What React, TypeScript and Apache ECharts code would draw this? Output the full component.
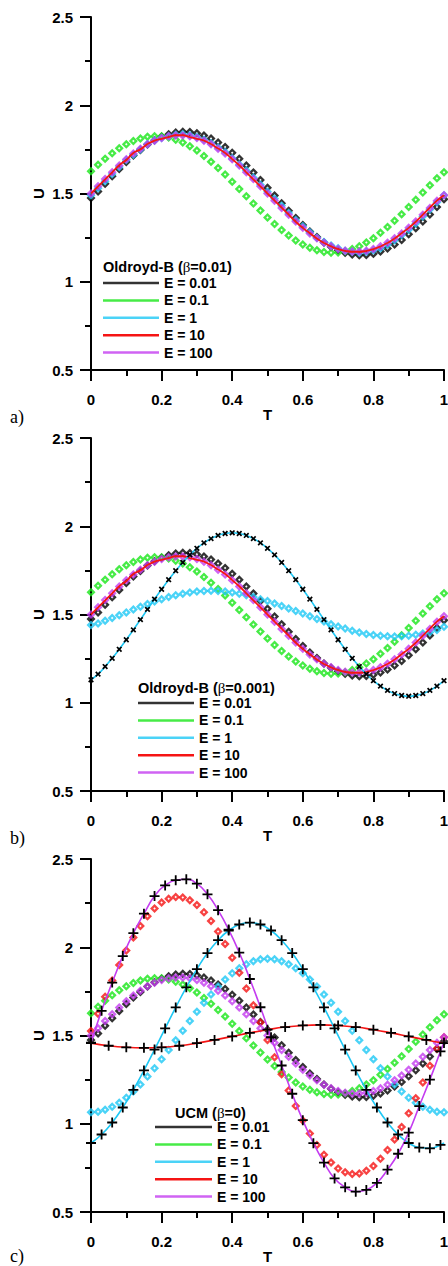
import React, { useEffect, useRef } from "react";
import * as echarts from "echarts";

// ---------- x grids ----------
const T_FINE = [0, 0.02, 0.04, 0.06, 0.08, 0.1, 0.12, 0.14, 0.16, 0.18, 0.2, 0.22, 0.24, 0.26, 0.28, 0.3, 0.32, 0.34, 0.36, 0.38, 0.4, 0.42, 0.44, 0.46, 0.48, 0.5, 0.52, 0.54, 0.56, 0.58, 0.6, 0.62, 0.64, 0.66, 0.68, 0.7, 0.72, 0.74, 0.76, 0.78, 0.8, 0.82, 0.84, 0.86, 0.88, 0.9, 0.92, 0.94, 0.96, 0.98, 1];
const T_03 = [0, 0.03, 0.06, 0.09, 0.12, 0.15, 0.18, 0.21, 0.24, 0.27, 0.3, 0.33, 0.36, 0.39, 0.42, 0.45, 0.48, 0.51, 0.54, 0.57, 0.6, 0.63, 0.66, 0.69, 0.72, 0.75, 0.78, 0.81, 0.84, 0.87, 0.9, 0.93, 0.96, 0.99, 1];
const T_05 = [0, 0.05, 0.1, 0.15, 0.2, 0.25, 0.3, 0.35, 0.4, 0.45, 0.5, 0.55, 0.6, 0.65, 0.7, 0.75, 0.8, 0.85, 0.9, 0.95, 1];

// ---------- tick labels ----------
const X_TICKS = [0, 0.2, 0.4, 0.6, 0.8, 1];
const Y_TICKS = [0.5, 1, 1.5, 2, 2.5];

// ---------- legend ----------
const LEGEND_NAMES = ["E = 0.01", "E = 0.1", "E = 1", "E = 10", "E = 100"];
const PANEL_TITLES = [
  ["Oldroyd-B (", "β", "=0.01)"],
  ["Oldroyd-B (", "β", "=0.001)"],
  ["UCM (", "β", "=0)"],
];
const PANEL_LABELS = ["a)", "b)", "c)"];

// ---------- series values (U) ----------
// shared curves (same in all panels)
const U_E001 = [1.475, 1.511, 1.555, 1.598, 1.639, 1.678, 1.715, 1.747, 1.777, 1.801, 1.821, 1.836, 1.846, 1.85, 1.848, 1.842, 1.829, 1.812, 1.789, 1.763, 1.731, 1.697, 1.659, 1.619, 1.576, 1.533, 1.489, 1.445, 1.402, 1.361, 1.322, 1.285, 1.253, 1.223, 1.199, 1.179, 1.164, 1.154, 1.15, 1.152, 1.158, 1.171, 1.188, 1.211, 1.237, 1.269, 1.303, 1.341, 1.381, 1.424, 1.467];
const U_E01 = [1.626, 1.663, 1.697, 1.728, 1.756, 1.779, 1.798, 1.812, 1.821, 1.825, 1.824, 1.817, 1.805, 1.789, 1.768, 1.743, 1.713, 1.68, 1.645, 1.607, 1.567, 1.526, 1.485, 1.443, 1.403, 1.364, 1.327, 1.293, 1.262, 1.234, 1.211, 1.192, 1.178, 1.169, 1.165, 1.166, 1.173, 1.185, 1.201, 1.222, 1.247, 1.277, 1.31, 1.345, 1.383, 1.423, 1.464, 1.505, 1.547, 1.587, 1.62];
const U_E100 = [1.5, 1.541, 1.582, 1.621, 1.659, 1.694, 1.726, 1.754, 1.779, 1.799, 1.814, 1.824, 1.829, 1.829, 1.824, 1.814, 1.799, 1.779, 1.754, 1.726, 1.694, 1.659, 1.621, 1.582, 1.541, 1.5, 1.459, 1.418, 1.379, 1.341, 1.306, 1.274, 1.246, 1.221, 1.201, 1.186, 1.176, 1.171, 1.171, 1.176, 1.186, 1.201, 1.221, 1.246, 1.274, 1.306, 1.341, 1.379, 1.418, 1.459, 1.49];
const U_E10_AB = [1.5, 1.54, 1.58, 1.62, 1.66, 1.69, 1.73, 1.75, 1.78, 1.8, 1.81, 1.82, 1.83, 1.83, 1.82, 1.81, 1.8, 1.78, 1.755, 1.73, 1.695, 1.66, 1.62, 1.58, 1.54, 1.5, 1.46, 1.42, 1.38, 1.34, 1.305, 1.275, 1.245, 1.22, 1.2, 1.185, 1.175, 1.17, 1.17, 1.175, 1.185, 1.2, 1.22, 1.245, 1.275, 1.305, 1.34, 1.38, 1.42, 1.46, 1.49];
// panel a
const A_E1 = [1.49, 1.53, 1.57, 1.61, 1.65, 1.69, 1.72, 1.75, 1.78, 1.8, 1.815, 1.825, 1.833, 1.835, 1.83, 1.82, 1.805, 1.785, 1.76, 1.735, 1.7, 1.665, 1.63, 1.59, 1.55, 1.51, 1.47, 1.43, 1.39, 1.35, 1.315, 1.28, 1.25, 1.225, 1.205, 1.19, 1.175, 1.17, 1.165, 1.17, 1.178, 1.19, 1.21, 1.235, 1.265, 1.295, 1.33, 1.37, 1.41, 1.45, 1.49];
// panel b
const B_E1 = [1.44, 1.449, 1.464, 1.48, 1.496, 1.512, 1.528, 1.544, 1.559, 1.574, 1.587, 1.599, 1.609, 1.618, 1.625, 1.63, 1.633, 1.634, 1.633, 1.63, 1.625, 1.618, 1.609, 1.599, 1.587, 1.576, 1.562, 1.548, 1.534, 1.52, 1.505, 1.49, 1.475, 1.46, 1.445, 1.432, 1.42, 1.408, 1.398, 1.39, 1.384, 1.38, 1.377, 1.376, 1.377, 1.38, 1.385, 1.392, 1.4, 1.412, 1.43];
const B_E1_LINE = [1.13, 1.162, 1.205, 1.252, 1.303, 1.357, 1.413, 1.471, 1.529, 1.587, 1.643, 1.697, 1.748, 1.795, 1.838, 1.875, 1.906, 1.93, 1.948, 1.959, 1.963, 1.959, 1.948, 1.93, 1.906, 1.875, 1.838, 1.795, 1.748, 1.697, 1.643, 1.587, 1.529, 1.471, 1.413, 1.357, 1.303, 1.252, 1.205, 1.162, 1.125, 1.094, 1.07, 1.052, 1.041, 1.037, 1.041, 1.052, 1.07, 1.094, 1.125];
// panel c
const C_E1 = [1.065, 1.068, 1.079, 1.096, 1.119, 1.148, 1.183, 1.223, 1.267, 1.315, 1.366, 1.418, 1.473, 1.527, 1.582, 1.634, 1.685, 1.733, 1.777, 1.817, 1.852, 1.881, 1.904, 1.921, 1.932, 1.935, 1.932, 1.921, 1.904, 1.881, 1.852, 1.817, 1.777, 1.733, 1.685, 1.634, 1.582, 1.527, 1.473, 1.418, 1.366, 1.315, 1.267, 1.223, 1.183, 1.148, 1.119, 1.096, 1.079, 1.068, 1.065];
const C_E10 = [1.525, 1.623, 1.719, 1.812, 1.9, 1.981, 2.055, 2.12, 2.176, 2.22, 2.254, 2.275, 2.285, 2.282, 2.266, 2.239, 2.199, 2.149, 2.089, 2.019, 1.941, 1.856, 1.766, 1.671, 1.574, 1.475, 1.377, 1.281, 1.188, 1.1, 1.019, 0.945, 0.88, 0.824, 0.78, 0.746, 0.725, 0.715, 0.718, 0.734, 0.761, 0.801, 0.851, 0.911, 0.981, 1.059, 1.144, 1.234, 1.329, 1.426, 1.49];
const C_E1_LINE = [0.891, 0.939, 1.007, 1.092, 1.192, 1.302, 1.42, 1.54, 1.659, 1.773, 1.876, 1.967, 2.04, 2.095, 2.129, 2.14, 2.129, 2.095, 2.04, 1.967, 1.876, 1.773, 1.659, 1.54, 1.42, 1.302, 1.192, 1.092, 1.007, 0.939, 0.891, 0.865, 0.861, 0.88, 0.891];
const C_E100_LINE = [1.46, 1.64, 1.8, 1.95, 2.08, 2.19, 2.29, 2.35, 2.38, 2.385, 2.36, 2.3, 2.21, 2.1, 1.97, 1.82, 1.66, 1.49, 1.33, 1.17, 1.02, 0.89, 0.78, 0.69, 0.64, 0.615, 0.625, 0.665, 0.74, 0.83, 0.95, 1.1, 1.25, 1.41, 1.46];
const C_E10_LINE = [1.457, 1.442, 1.433, 1.43, 1.433, 1.442, 1.457, 1.475, 1.495, 1.515, 1.533, 1.548, 1.557, 1.56, 1.557, 1.548, 1.533, 1.515, 1.495, 1.475, 1.457];

// ---------- styles ----------
const C_BLACK = "#000000";
const C_GREEN = "#19e619";
const C_CYAN = "#1ec8f5";
const C_RED = "#f51414";
const C_MAGENTA = "#c43cf0";
const SANS = "'Liberation Sans', Arial, Helvetica, sans-serif";
const SERIF = "'Liberation Serif', 'Times New Roman', serif";

const DIAMOND = "path://M0,-10L10,0L0,10L-10,0Z M0,-2.8L-2.8,0L0,2.8L2.8,0Z";
const PLUS = "path://M-1.8,-10L1.8,-10L1.8,-1.8L10,-1.8L10,1.8L1.8,1.8L1.8,10L-1.8,10L-1.8,1.8L-10,1.8L-10,-1.8L-1.8,-1.8Z";
const CROSS = "path://M-2.6,-10L2.6,-10L2.6,-2.6L10,-2.6L10,2.6L2.6,2.6L2.6,10L-2.6,10L-2.6,2.6L-10,2.6L-10,-2.6L-2.6,-2.6Z";

const GRID_TOPS = [17, 438, 859];
const GRID_LEFT = 91;
const GRID_SIZE = 353;

function pairs(xs: number[], ys: number[]) {
  return xs.map((x, i) => [x, ys[i]]);
}

function diamonds(name: string, ys: number[], color: string, g: number) {
  return {
    type: "scatter",
    name,
    xAxisIndex: g,
    yAxisIndex: g,
    data: pairs(T_FINE, ys),
    symbol: DIAMOND,
    symbolSize: 9,
    itemStyle: { color },
    silent: true,
  };
}

function plainLine(name: string, xs: number[], ys: number[], color: string, g: number) {
  return {
    type: "line",
    name,
    xAxisIndex: g,
    yAxisIndex: g,
    data: pairs(xs, ys),
    smooth: true,
    showSymbol: false,
    symbol: "none",
    itemStyle: { color },
    lineStyle: { color, width: 1.8 },
    silent: true,
  };
}

function markedLine(
  name: string,
  xs: number[],
  ys: number[],
  color: string,
  g: number,
  symbol: string,
  size: number,
  rotate: number,
  lastNoSymbol: boolean
) {
  const data = xs.map((x, i) => {
    if (lastNoSymbol && i === xs.length - 1) return { value: [x, ys[i]], symbol: "none" };
    return { value: [x, ys[i]] };
  });
  return {
    type: "line",
    name,
    xAxisIndex: g,
    yAxisIndex: g,
    data,
    smooth: true,
    showSymbol: true,
    symbol,
    symbolSize: size,
    symbolRotate: rotate,
    itemStyle: { color: C_BLACK },
    lineStyle: { color, width: 1.6 },
    silent: true,
  };
}

export default function App() {
  const ref = useRef<HTMLDivElement>(null);

  useEffect(() => {
    if (!ref.current) return;
    const chart = echarts.init(ref.current, undefined, { renderer: "svg" });

    const grids = GRID_TOPS.map((top) => ({
      left: GRID_LEFT,
      top,
      width: GRID_SIZE,
      height: GRID_SIZE,
      containLabel: false,
      outerBoundsMode: "none",
    }));

    const axisCommon = {
      axisLine: { show: true, onZero: false, lineStyle: { color: "#000", width: 2 } },
      axisTick: { show: true, inside: false, length: 11, lineStyle: { color: "#000", width: 2 } },
      minorTick: { show: true, splitNumber: 2, length: 6, lineStyle: { color: "#000", width: 2 } },
      splitLine: { show: false },
      minorSplitLine: { show: false },
    };

    const xAxes = GRID_TOPS.map((_, i) => ({
      type: "value",
      gridIndex: i,
      min: X_TICKS[0],
      max: X_TICKS[X_TICKS.length - 1],
      interval: 0.2,
      name: "T",
      nameLocation: "middle",
      nameGap: 37,
      nameMoveOverlap: false,
      nameTextStyle: { fontFamily: SANS, fontWeight: "bold", fontSize: 15, color: "#000" },
      ...axisCommon,
      axisLabel: {
        margin: 22,
        fontFamily: SANS,
        fontWeight: "bold",
        fontSize: 15,
        color: "#000",
        showMinLabel: true,
        showMaxLabel: true,
      },
    }));

    const yAxes = GRID_TOPS.map((_, i) => ({
      type: "value",
      gridIndex: i,
      min: Y_TICKS[0],
      max: Y_TICKS[Y_TICKS.length - 1],
      interval: 0.5,
      name: "U",
      nameLocation: "middle",
      nameRotate: 90,
      nameGap: 45,
      nameMoveOverlap: false,
      nameTextStyle: { fontFamily: SANS, fontWeight: "bold", fontSize: 15, color: "#000" },
      ...axisCommon,
      axisLabel: {
        margin: 18,
        fontFamily: SANS,
        fontWeight: "bold",
        fontSize: 15,
        color: "#000",
        showMinLabel: true,
        showMaxLabel: true,
      },
    }));

    const series: any[] = [
      // panel a
      diamonds("E = 0.01", U_E001, C_BLACK, 0),
      diamonds("E = 0.1", U_E01, C_GREEN, 0),
      diamonds("E = 1", A_E1, C_CYAN, 0),
      plainLine("E = 10", T_FINE, U_E10_AB, C_RED, 0),
      diamonds("E = 100", U_E100, C_MAGENTA, 0),
      // panel b
      diamonds("E = 0.01", U_E001, C_BLACK, 1),
      diamonds("E = 0.1", U_E01, C_GREEN, 1),
      diamonds("E = 1", B_E1, C_CYAN, 1),
      plainLine("E = 10", T_FINE, U_E10_AB, C_RED, 1),
      diamonds("E = 100", U_E100, C_MAGENTA, 1),
      markedLine("E = 1 (line b)", T_FINE, B_E1_LINE, C_CYAN, 1, CROSS, 6.5, 45, false),
      // panel c
      diamonds("E = 0.01", U_E001, C_BLACK, 2),
      diamonds("E = 0.1", U_E01, C_GREEN, 2),
      diamonds("E = 1", C_E1, C_CYAN, 2),
      diamonds("E = 10", C_E10, C_RED, 2),
      diamonds("E = 100", U_E100, C_MAGENTA, 2),
      markedLine("E = 10 (line c)", T_05, C_E10_LINE, C_RED, 2, PLUS, 10, 0, false),
      markedLine("E = 1 (line c)", T_03, C_E1_LINE, C_CYAN, 2, PLUS, 10, 0, true),
      markedLine("E = 100 (line c)", T_03, C_E100_LINE, C_MAGENTA, 2, PLUS, 10, 0, true),
    ];

    const legendPos = [
      { left: 103, top: 276, itemWidth: 56 },
      { left: 138, top: 696, itemWidth: 56 },
      { left: 155, top: 1120, itemWidth: 57 },
    ];
    const legends = legendPos.map((p) => ({
      orient: "vertical",
      left: p.left,
      top: p.top,
      padding: 0,
      itemWidth: p.itemWidth,
      itemHeight: 2.5,
      itemGap: 3.4,
      icon: "rect",
      selectedMode: false,
      data: LEGEND_NAMES,
      textStyle: { fontFamily: SANS, fontWeight: "bold", fontSize: 14, color: "#000", lineHeight: 14 },
    }));

    const titlePos = [
      { left: 103, top: 259 },
      { left: 138, top: 680 },
      { left: 175, top: 1105 },
    ];
    const titles = titlePos.map((p, i) => ({
      left: p.left,
      top: p.top,
      padding: 0,
      text: `{a|${PANEL_TITLES[i][0]}}{b|${PANEL_TITLES[i][1]}}{a|${PANEL_TITLES[i][2]}}`,
      textStyle: {
        fontSize: 14.5,
        fontFamily: SANS,
        fontWeight: "bold",
        color: "#000",
        rich: {
          a: { fontSize: 14.5, fontFamily: SANS, fontWeight: "bold", color: "#000", lineHeight: 16 },
          b: { fontSize: 15, fontFamily: SERIF, fontWeight: "normal", color: "#000", lineHeight: 16 },
        },
      },
    }));

    const labelYs = [417, 838, 1256];
    const graphic = labelYs.map((y, i) => ({
      type: "text",
      x: 10,
      y,
      silent: true,
      style: {
        text: PANEL_LABELS[i],
        font: `18px ${SERIF}`,
        fill: "#000",
        textVerticalAlign: "middle",
        verticalAlign: "middle",
      },
    }));

    chart.setOption({
      animation: false,
      backgroundColor: "#ffffff",
      title: titles,
      legend: legends,
      grid: grids,
      xAxis: xAxes,
      yAxis: yAxes,
      series,
      graphic,
    });

    return () => chart.dispose();
  }, []);

  return (
    <div
      ref={ref}
      style={{ position: "absolute", left: 0, top: 0, width: 448, height: 1266 }}
    />
  );
}
